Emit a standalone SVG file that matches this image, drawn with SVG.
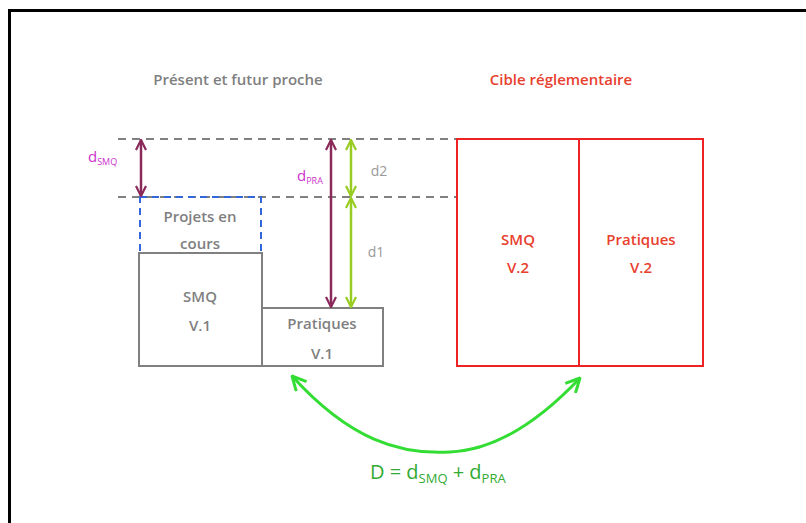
<svg xmlns="http://www.w3.org/2000/svg" width="806" height="523" viewBox="0 0 806 523">
<style>
text{font-family:"Open Sans","DejaVu Sans",sans-serif;font-weight:600;text-anchor:middle}
.g{fill:#7f7f7f;font-size:15px}
.r{fill:#e8402e;font-size:15px}
.box{fill:none;stroke:#808080;stroke-width:2}
.red{fill:none;stroke:#ee2222;stroke-width:2}
.dash{stroke:#808080;stroke-width:2;stroke-dasharray:8,6;fill:none}
.pur{stroke:#8b2a5a;stroke-width:2.5;fill:none}
.lime{stroke:#99cc22;stroke-width:2.5;fill:none}
.mag{fill:#cc33cc;font-weight:400;text-anchor:start}
</style>
<defs>
<marker id="ap" viewBox="0 0 12 12" refX="11" refY="6" markerWidth="12" markerHeight="12" markerUnits="userSpaceOnUse" orient="auto-start-reverse"><path d="M1,1 L11,6 L1,11" fill="none" stroke="#8b2a5a" stroke-width="2.2"/></marker>
<marker id="al" viewBox="0 0 12 12" refX="11" refY="6" markerWidth="12" markerHeight="12" markerUnits="userSpaceOnUse" orient="auto-start-reverse"><path d="M1,1 L11,6 L1,11" fill="none" stroke="#99cc22" stroke-width="2.2"/></marker>
<marker id="ag" viewBox="0 0 16 16" refX="15" refY="8" markerWidth="16" markerHeight="16" markerUnits="userSpaceOnUse" orient="auto-start-reverse"><path d="M1,1 L15,8 L1,15" fill="none" stroke="#33dd33" stroke-width="3"/></marker>
</defs>
<rect width="806" height="523" fill="#ffffff"/>
<path d="M9.5,523 V10.5 H806" fill="none" stroke="#000" stroke-width="3"/>
<g id="titles">
<text class="g" x="238" y="85">Présent et futur proche</text>
<text class="r" x="561" y="85">Cible réglementaire</text>
</g>
<g id="guides">
<line class="dash" x1="118" y1="139" x2="457" y2="139"/>
<line class="dash" x1="118" y1="197" x2="457" y2="197"/>
</g>
<g id="projets">
<rect x="140" y="197" width="121" height="56" fill="none" stroke="#3366dd" stroke-width="2" stroke-dasharray="7,5"/>
<text class="g" x="200" y="222">Projets en</text>
<text class="g" x="200" y="249">cours</text>
</g>
<g id="smq1">
<rect class="box" x="139" y="253" width="123" height="113"/>
<text class="g" x="200" y="302">SMQ</text>
<text class="g" x="200" y="331">V.1</text>
</g>
<g id="pra1">
<rect class="box" x="262" y="308" width="121" height="58"/>
<text class="g" x="322" y="329">Pratiques</text>
<text class="g" x="322" y="359">V.1</text>
</g>
<g id="smq2">
<rect class="red" x="457" y="139" width="122" height="227"/>
<text class="r" x="518" y="245">SMQ</text>
<text class="r" x="518" y="273">V.2</text>
</g>
<g id="pra2">
<rect class="red" x="579" y="139" width="124" height="227"/>
<text class="r" x="641" y="245">Pratiques</text>
<text class="r" x="641" y="273">V.2</text>
</g>
<g id="connectors">
<line class="pur" x1="141" y1="140" x2="141" y2="196" marker-start="url(#ap)" marker-end="url(#ap)"/>
<line class="pur" x1="331" y1="140" x2="331" y2="307" marker-start="url(#ap)" marker-end="url(#ap)"/>
<line class="lime" x1="351" y1="140" x2="351" y2="196" marker-start="url(#al)" marker-end="url(#al)"/>
<line class="lime" x1="351" y1="198" x2="351" y2="307" marker-start="url(#al)" marker-end="url(#al)"/>
<path d="M292,376 C350,440 400,455 450,452 C500,450 545,415 580,378" fill="none" stroke="#33dd33" stroke-width="3" marker-start="url(#ag)" marker-end="url(#ag)"/>
</g>
<g id="labels">
<text class="mag" x="88" y="162" font-size="15">d<tspan font-size="9" dy="3">SMQ</tspan></text>
<text class="mag" x="297" y="181" font-size="15">d<tspan font-size="9" dy="3">PRA</tspan></text>
<text x="379" y="176" style="fill:#999;font-weight:400;font-size:14px">d2</text>
<text x="376" y="257" style="fill:#999;font-weight:400;font-size:14px">d1</text>
<text x="370" y="479" style="fill:#33aa33;font-weight:400;font-size:20px;text-anchor:start">D = d<tspan font-size="13" dy="4">SMQ</tspan><tspan dy="-4"> + d</tspan><tspan font-size="13" dy="4">PRA</tspan></text>
</g>
</svg>
